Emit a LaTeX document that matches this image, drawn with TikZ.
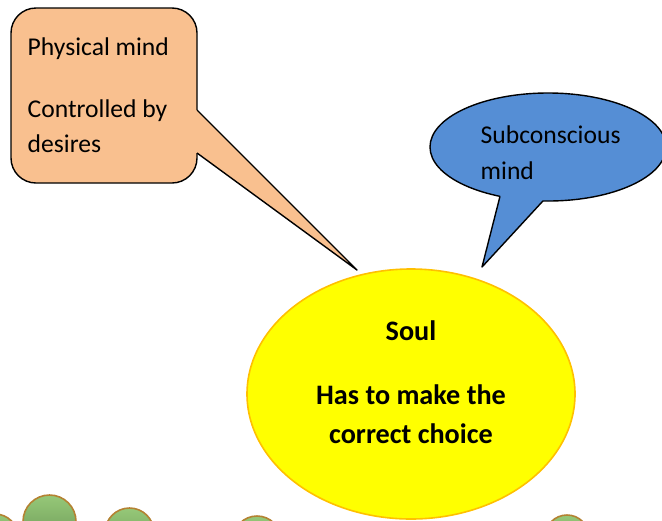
\documentclass[tikz,border=0pt]{standalone}
\usepackage{fontspec}
\setmainfont{Carlito}
\definecolor{peach}{RGB}{249,192,143}
\definecolor{skyblue}{RGB}{85,142,213}
\definecolor{soulyellow}{RGB}{255,255,0}
\definecolor{soulrim}{RGB}{255,192,0}
\definecolor{leaf}{RGB}{150,200,120}
\definecolor{leafdark}{RGB}{105,150,85}
\definecolor{leafrim}{RGB}{180,130,50}
\tikzset{
 txt/.style={inner sep=0pt, font=\fontsize{12.8}{15}\selectfont},
 bold/.style={inner sep=0pt, font=\fontsize{14.1}{17}\selectfont\bfseries},
 leafdot/.style={draw=leafrim, line width=0.8pt, top color=leaf, bottom color=leafdark}
}
\begin{document}
\begin{tikzpicture}[x=0.5pt, y=-0.5pt, line join=round, line width=0.7pt]
 \useasboundingbox (0,0) rectangle (662,520);
 \clip (0,0) rectangle (662,520);
 \draw[fill=peach, rounded corners=12.5pt] (11,8) rectangle (197,183);
 \fill[peach] (197,110)--(357,270)--(197,153)--(185,153)--(185,110)--cycle;
 \draw (197,110)--(357,270)--(197,153);
 \draw[fill=skyblue] (548,147) ellipse [x radius=118, y radius=54];
 \fill[skyblue] (500,196.3)--(482,267)--(543,200.9)--(540,185)--(505,185)--cycle;
 \draw (500,196.3)--(482,267)--(543,200.9);
 \draw[fill=soulyellow, draw=soulrim, line width=0.8pt] (411,394) ellipse [x radius=164, y radius=125];
 \foreach \cx/\cy/\r in {-5/537/23, 49.5/521.5/26.5, 129.5/532.5/24.5, 257/540/24, 567/537/22}
  \draw[leafdot] (\cx,\cy) circle [radius=\r];
 \node[txt, anchor=base west] (phys1) at (27,55) {Physical mind};
 \node[txt, anchor=base west] (phys2) at (27,117) {Controlled by};
 \node[txt, anchor=base west] (phys3) at (27,152) {desires};
 \node[txt, anchor=base west] (sub1) at (480,143) {Subconscious};
 \node[txt, anchor=base west] (sub2) at (480,179) {mind};
 \node[bold, anchor=base] (soul1) at (411,340) {Soul};
 \node[bold, anchor=base] (soul2) at (411,404) {Has to make the};
 \node[bold, anchor=base] (soul3) at (411,443) {correct choice};
\end{tikzpicture}
\end{document}
